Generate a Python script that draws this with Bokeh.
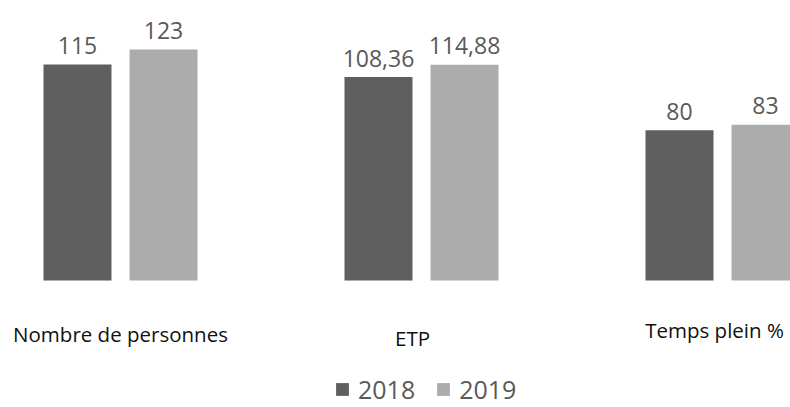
from bokeh.plotting import figure
from bokeh.models import Range1d, ColumnDataSource, Legend, LegendItem
from bokeh.core.properties import value
from bokeh.embed import file_html
from bokeh.resources import INLINE

categories = ["Nombre de personnes", "ETP", "Temps plein %"]
values_2018 = [115, 108.36, 80]
values_2019 = [123, 114.88, 83]
labels_2018 = ["115", "108,36", "80"]
labels_2019 = ["123", "114,88", "83"]
series = ["2018", "2019"]

# styles / positions (screen pixels)
cat_label_dy = [53, 57, 49]
cat_label_dx = [0, -9, -8]
DARK = "#5f5f5f"
LIGHT = "#acacac"

W, H = 790, 407
p = figure(width=W, height=H, output_backend="svg", toolbar_location=None,
           x_range=Range1d(-0.3987, 2.2259), y_range=Range1d(-67.6, 149.1),
           min_border=0, outline_line_color=None)
p.axis.visible = False
p.grid.visible = False
p.background_fill_color = "white"
p.border_fill_color = "white"

xs = list(range(len(categories)))
off = 0.1429
bw = 0.2259
src = ColumnDataSource(dict(
    x18=[x - off for x in xs], x19=[x + off for x in xs],
    v18=values_2018, v19=values_2019, l18=labels_2018, l19=labels_2019,
    xc=xs, cat=categories, zero=[0] * len(xs), cdy=cat_label_dy, cdx=cat_label_dx))

r18 = p.vbar(x="x18", top="v18", width=bw, bottom=0, source=src, fill_color=DARK, line_color=None)
r19 = p.vbar(x="x19", top="v19", width=bw, bottom=0, source=src, fill_color=LIGHT, line_color=None)

for xf, vf, lf in (("x18", "v18", "l18"), ("x19", "v19", "l19")):
    p.text(x=xf, y=vf, text=lf, source=src, text_align="center", text_baseline="alphabetic",
           y_offset=-19, text_font=value("Open Sans"), text_font_size="23px", text_color="#595959")

p.text(x="xc", y="zero", text="cat", source=src, text_align="center", text_baseline="middle",
       x_offset="cdx", y_offset="cdy", text_font=value("Open Sans"), text_font_size="20.5px",
       text_color="#111111")

legend = Legend(items=[LegendItem(label=series[0], renderers=[r18]),
                       LegendItem(label=series[1], renderers=[r19])],
                orientation="horizontal", location=(334, 1),
                label_text_font="Open Sans", label_text_font_size="25px",
                label_text_color="#595959", glyph_width=16, glyph_height=16,
                spacing=20, padding=0, margin=0, border_line_color=None,
                background_fill_alpha=0, label_standoff=8)
p.add_layout(legend)

open("out.html", "w").write(file_html(p, INLINE))
